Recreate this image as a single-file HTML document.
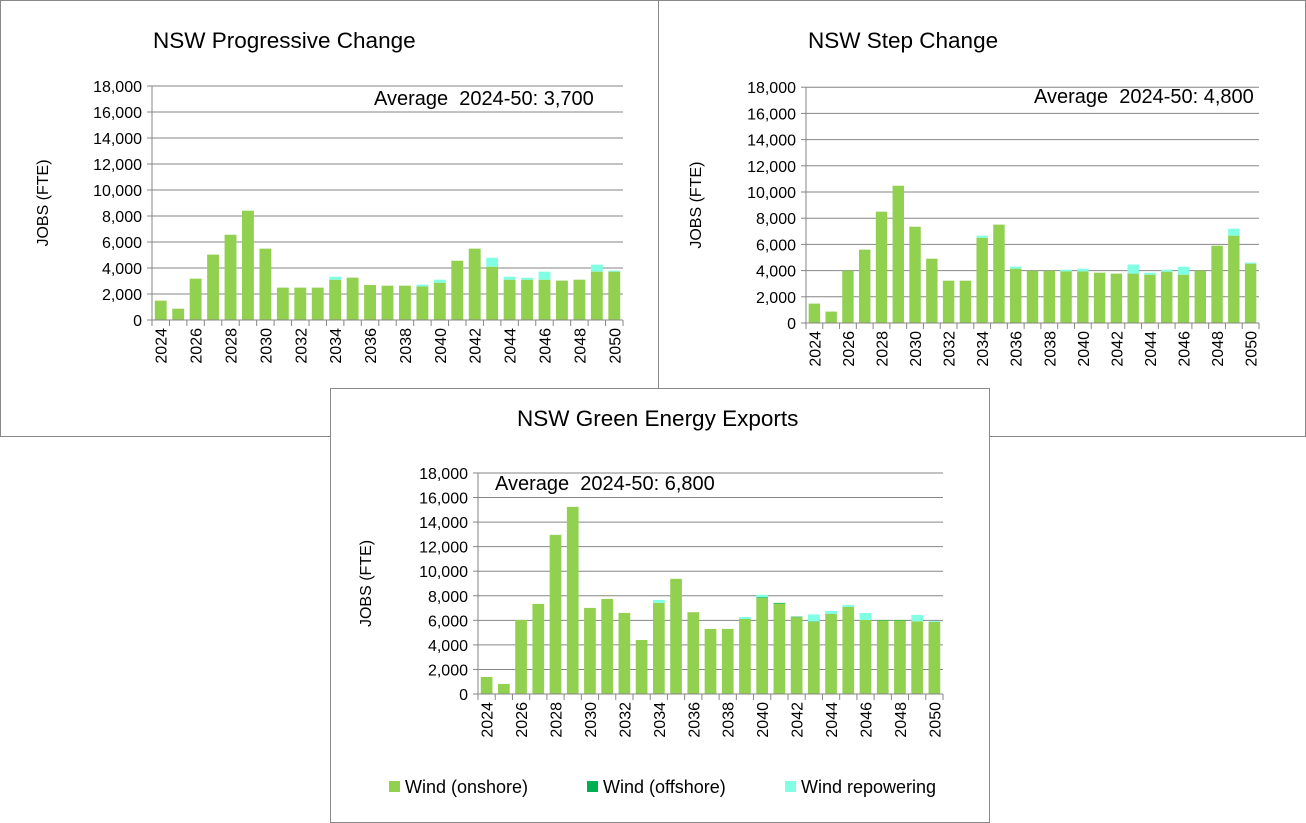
<!DOCTYPE html>
<html><head><meta charset="utf-8"><style>
body{margin:0;background:#fff;width:1306px;height:823px;overflow:hidden;font-family:"Liberation Sans",sans-serif}
.panel{position:absolute;background:#fff;border:1px solid #888;box-sizing:border-box}
svg{position:absolute;left:0;top:0}
</style></head><body>
<div class="panel" style="left:0;top:0;width:659px;height:437px"></div>
<div class="panel" style="left:658px;top:0;width:648px;height:437px"></div>
<div class="panel" style="left:330px;top:388px;width:660px;height:435px;z-index:2"></div>
<svg id="s1" width="1306" height="823" style="z-index:1"></svg>
<svg id="s3" width="1306" height="823" style="z-index:3"></svg>
<script>
const years=[2024,2025,2026,2027,2028,2029,2030,2031,2032,2033,2034,2035,2036,2037,2038,2039,2040,2041,2042,2043,2044,2045,2046,2047,2048,2049,2050];
const yTicks=[0,2000,4000,6000,8000,10000,12000,14000,16000,18000];
const pcOnshore=[1490,870,3180,5030,6560,8410,5490,2490,2490,2490,3100,3260,2690,2640,2640,2590,2870,4560,5490,4100,3100,3100,3100,3030,3100,3720,3720];
const pcOffshore=[0,0,0,0,0,0,0,0,0,0,0,0,0,0,0,0,0,0,0,0,0,0,0,0,0,0,0];
const pcRepower=[0,0,0,0,0,0,0,0,0,0,230,0,0,0,0,130,230,0,0,690,230,150,620,0,0,540,80];
const scOnshore=[1480,870,3990,5600,8500,10480,7350,4910,3230,3230,6510,7510,4150,3990,3990,3940,3940,3840,3770,3770,3690,3920,3690,3990,5900,6670,4530];
const scOffshore=[0,0,0,0,0,0,0,0,0,0,0,0,0,0,0,0,0,0,0,0,0,0,0,0,0,0,0];
const scRepower=[0,0,0,0,0,0,0,0,0,0,150,0,150,0,0,130,200,0,0,690,150,150,610,0,0,530,80];
const geOnshore=[1390,820,6030,7340,12960,15240,7010,7740,6600,4400,7420,9380,6660,5300,5300,6110,7820,7360,6250,5880,6520,7090,6030,5990,5990,5920,5870];
const geOffshore=[0,0,0,0,0,0,0,0,0,0,0,0,0,0,0,0,60,60,50,40,0,0,0,40,40,0,0];
const geRepower=[0,0,0,0,0,0,0,0,0,0,240,0,0,0,0,160,200,0,0,560,240,160,570,0,0,520,80];
const NS="http://www.w3.org/2000/svg";
function el(svg,tag,a,txt){const e=document.createElementNS(NS,tag);for(const k in a)e.setAttribute(k,a[k]);if(txt!==undefined)e.textContent=txt;svg.appendChild(e);return e;}
function chart(svg,c,on,off,rep){
  const n=years.length,slot=(c.x1-c.x0)/n,bw=slot*0.68;
  const Y=v=>c.y0-v*c.k; const X=i=>c.x0+slot*i+slot/2;
  yTicks.forEach(t=>{
    if(t>0){const g=el(svg,'line',{x1:c.x0,x2:c.x1,y1:Y(t),y2:Y(t),stroke:'#868686','stroke-width':1});
    
    }
    const l=el(svg,'text',{x:c.x0-10,y:Y(t)+6,'text-anchor':'end','font-size':16,fill:'#000'},t.toLocaleString('en-US'));
    
    
    el(svg,'line',{x1:c.x0-5,x2:c.x0,y1:Y(t),y2:Y(t),stroke:'#868686'});
  });
  years.forEach((yr,i)=>{
    const segs=[[on[i],'#92D050','bar-onshore'],[off[i],'#00B050','bar-offshore'],[rep[i],'#80FFE3','bar-repowering']];
    let base=0;
    segs.forEach(s=>{if(s[0]>0){const r=el(svg,'rect',{x:X(i)-bw/2,y:Y(base+s[0]),width:bw,height:s[0]*c.k,fill:s[1]});
      
      }
      base+=s[0];});
    const tx=c.x0+slot*(i+1);
    el(svg,'line',{x1:tx,x2:tx,y1:c.y0,y2:c.y0+6,stroke:'#868686'});
    if(i%2===0){const t=el(svg,'text',{x:0,y:0,'font-size':16,'text-anchor':'end',transform:`translate(${X(i)+6},${c.y0+8}) rotate(-90)`},yr);
      
      }
  });
  el(svg,'line',{x1:c.x0,x2:c.x0,y1:Y(18000),y2:c.y0+6,stroke:'#868686'});
  el(svg,'line',{x1:c.x0,x2:c.x1,y1:c.y0,y2:c.y0,stroke:'#868686'});
  const tt=el(svg,'text',{x:c.tx,y:c.ty,'font-size':22.5},c.title);
  
  
  const av=el(svg,'text',{x:c.ax,y:c.ay,'font-size':20,style:'white-space:pre'},c.avg);
  
  
  const yl=el(svg,'text',{x:0,y:0,'font-size':16,'text-anchor':'middle',transform:`translate(${c.jx},${(Y(18000)+c.y0)/2}) rotate(-90)`},'JOBS (FTE)');
  
  
}
const s1=document.getElementById('s1'),s3=document.getElementById('s3');
chart(s1,{x0:152,x1:623,y0:320,k:0.013,title:'NSW Progressive Change',tx:153,ty:48,avg:'Average  2024-50: 3,700',ax:374,ay:105,jx:48},pcOnshore,pcOffshore,pcRepower);
chart(s1,{x0:806,x1:1259,y0:323,k:0.0131,title:'NSW Step Change',tx:808,ty:48,avg:'Average  2024-50: 4,800',ax:1034,ay:103,jx:701},scOnshore,scOffshore,scRepower);
chart(s3,{x0:478,x1:943,y0:694,k:0.01228,title:'NSW Green Energy Exports',tx:517,ty:426,avg:'Average  2024-50: 6,800',ax:495,ay:490,jx:371},geOnshore,geOffshore,geRepower);
[['#92D050','Wind (onshore)',389,'legend-onshore'],['#00B050','Wind (offshore)',587,'legend-offshore'],['#80FFE3','Wind repowering',785,'legend-repowering']].forEach(l=>{
  const g=el(s3,'g',{});
  
  
  el(g,'rect',{x:l[2],y:781,width:11,height:11,fill:l[0]});
  el(g,'text',{x:l[2]+16,y:793,'font-size':18},l[1]);
});
</script>
</body></html>
